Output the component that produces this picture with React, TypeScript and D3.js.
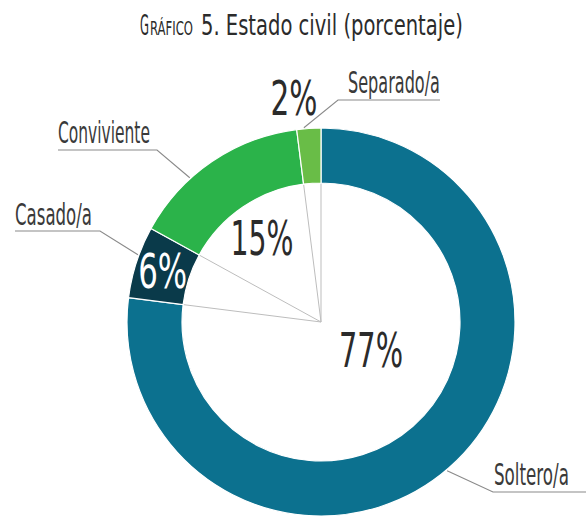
import React, { useLayoutEffect, useRef, useState } from "react";
import * as d3 from "d3";

const categories = ["Soltero/a", "Casado/a", "Conviviente", "Separado/a"];
const values = [77, 6, 15, 2];
const colors = ["#0c718f", "#0a3a4a", "#2bb34a", "#69bd47"];

const W = 586;
const H = 517;
const cx = 321;
const cy = 322;
const outerR = 194;
const innerR = 139;
const FONT = "'Liberation Sans Narrow', 'DejaVu Sans Condensed', 'Roboto', sans-serif";

// where each label sits (annotation layout, not data)
const labelLayout = [
  { anchorFrac: 0.504, elbow: [493, 492], lineEnd: 586, text: [494, 485], tl: 75, pct: [371, 367], pctTl: 64, pctFill: "#2b2b2b" },
  { anchorFrac: 0.6, elbow: [100, 231], lineEnd: 15, text: [15, 225], tl: 77, pct: null, pctTl: 49, pctFill: "#ffffff" },
  { anchorFrac: 0.35, elbow: [157, 150], lineEnd: 58, text: [58, 143], tl: 92, pct: [262, 255], pctTl: 63, pctFill: "#2b2b2b" },
  { anchorFrac: 0.3, elbow: [338, 100], lineEnd: 440, text: [348, 93], tl: 92, pct: [294, 115], pctTl: 47, pctFill: "#2b2b2b" },
];

// squeezes a text horizontally to a given width (the source uses a very condensed face)
function FitText({ x, y, width, size, fill, anchor, children }: any) {
  const ref = useRef<SVGTextElement>(null);
  const [k, setK] = useState(1);
  useLayoutEffect(() => {
    if (!ref.current) return;
    const len = ref.current.getComputedTextLength();
    if (len > 0) setK(width / len);
  }, [width, children]);
  return (
    <text ref={ref} transform={`translate(${x},${y}) scale(${k},1)`} fontSize={size} fill={fill}
      fontFamily={FONT} textAnchor={anchor || "start"}>
      {children}
    </text>
  );
}

export default function App() {
  const pie = d3.pie<number>().sort(null).startAngle(0).endAngle(2 * Math.PI);
  const slices = pie(values);
  const arc = d3.arc<d3.PieArcDatum<number>>().innerRadius(innerR).outerRadius(outerR);

  const pt = (a: number, r: number) => [cx + r * Math.sin(a), cy - r * Math.cos(a)];

  return (
    <svg width={W} height={H} style={{ position: "absolute", left: 0, top: 0, background: "#fff" }}>
      {/* title, small caps done by hand */}
      <FitText x={140} y={35} size={28} width={9} fill="#2b2b2b">G</FitText>
      <FitText x={150} y={35} size={20} width={43} fill="#2b2b2b">RÁFICO</FitText>
      <FitText x={201} y={35} size={28} width={262} fill="#2b2b2b">5. Estado civil (porcentaje)</FitText>

      {/* spokes from centre to each boundary */}
      {slices.map((s, i) => {
        const [x, y] = pt(s.startAngle, innerR);
        return <line key={"sp" + i} x1={cx} y1={cy} x2={x} y2={y} stroke="#bdbdbd" strokeWidth={1} />;
      })}

      <g transform={`translate(${cx},${cy})`}>
        {slices.map((s, i) => (
          <path key={i} d={arc(s) || ""} fill={colors[i]} stroke="#ffffff" strokeWidth={1.2} />
        ))}
      </g>

      {slices.map((s, i) => {
        const L = labelLayout[i];
        const a = s.startAngle + (s.endAngle - s.startAngle) * L.anchorFrac;
        const [ax, ay] = pt(a, outerR + 1);
        const c = arc.centroid(s);
        const pct = L.pct ? L.pct : [cx + c[0], cy + c[1] + 17];
        return (
          <g key={"lb" + i}>
            <polyline
              points={`${ax},${ay} ${L.elbow[0]},${L.elbow[1]} ${L.lineEnd},${L.elbow[1]}`}
              fill="none"
              stroke="#8a8a8a"
              strokeWidth={1.1}
            />
            <FitText x={L.text[0]} y={L.text[1]} size={31} width={L.tl} fill="#3a3a3a">
              {categories[i]}
            </FitText>
            <FitText x={pct[0]} y={pct[1]} size={48} width={L.pctTl} fill={L.pctFill} anchor="middle">
              {values[i] + "%"}
            </FitText>
          </g>
        );
      })}
    </svg>
  );
}
